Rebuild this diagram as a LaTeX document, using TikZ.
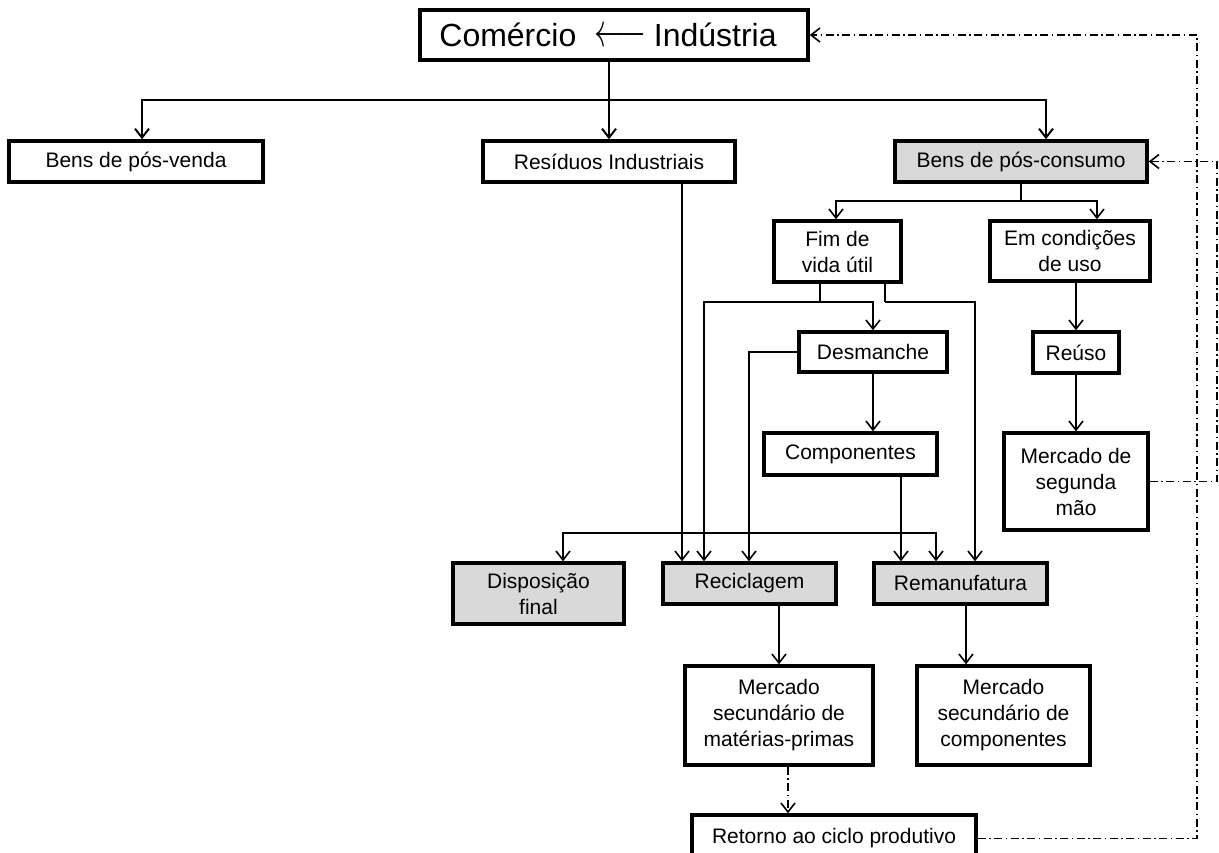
\documentclass[tikz,border=0pt]{standalone}
\usepackage{fix-cm}
\usepackage{fontspec}
\setmainfont{Liberation Sans}
\usetikzlibrary{arrows.meta,calc}
\definecolor{boxgray}{RGB}{217,217,217}
\begin{document}
\begin{tikzpicture}[x=1pt,y=-1pt,
 box/.style={draw,line width=3.4pt,fill=white,inner sep=0pt,align=center,font=\fontsize{21}{26}\selectfont},
 gbox/.style={box,fill=boxgray},
 arr/.style={-{Straight Barb[length=9pt,width=14pt]}},
 conn/.style={line width=1.6pt},
 dd/.style={line width=1.6pt,dash pattern=on 8pt off 3.5pt on 1.5pt off 3.5pt}]
\useasboundingbox (0,0) rectangle (1219,853);

% nodes
\node[box,minimum width=388pt,minimum height=50pt,font=\fontsize{32}{38}\selectfont] (top) at (614,35) {Comércio\hspace{18pt}\scalebox{1}[1.5]{$\longleftarrow$}\hspace{8pt}Indústria\hspace{12pt}};
\node[box,minimum width=254pt,minimum height=41pt] (posvenda) at (136,161.5) {Bens de pós-venda};
\node[box,minimum width=252pt,minimum height=41pt] (residuos) at (609,161.5) {Resíduos Industriais};
\node[gbox,minimum width=252pt,minimum height=41pt] (posconsumo) at (1021,161.5) {Bens de pós-consumo};
\node[box,minimum width=127pt,minimum height=61pt] (fim) at (837.5,251.5) {Fim de\\vida útil};
\node[box,minimum width=160pt,minimum height=60pt] (emcond) at (1070,251) {Em condições\\de uso};
\node[box,minimum width=148pt,minimum height=40pt] (desmanche) at (873,352) {Desmanche};
\node[box,minimum width=86pt,minimum height=41pt] (reuso) at (1076,352.5) {Reúso};
\node[box,minimum width=173pt,minimum height=42pt] (componentes) at (850.5,454) {Componentes};
\node[box,minimum width=144pt,minimum height=97pt] (mercseg) at (1076,481.5) {Mercado de\\segunda\\mão};
\node[gbox,minimum width=171pt,minimum height=61pt] (disp) at (538.5,593.5) {Disposição\\final};
\node[gbox,minimum width=173pt,minimum height=41pt] (recic) at (749.5,583.5) {Reciclagem};
\node[gbox,minimum width=173pt,minimum height=41pt] (reman) at (960.5,583.5) {Remanufatura};
\node[box,minimum width=188pt,minimum height=99pt] (mercmat) at (779,715.5) {Mercado\\secundário de\\matérias-primas};
\node[box,minimum width=173pt,minimum height=99pt] (merccomp) at (1003.5,715.5) {Mercado\\secundário de\\componentes};
\node[box,minimum width=284pt,minimum height=47pt] (retorno) at (834,838.5) {Retorno ao ciclo produtivo};

% junction coordinates
\coordinate (j1) at (609,100);
\coordinate (j2) at (1021,201);
\coordinate (j3) at (820,302);
\coordinate (j4) at (885,302);
\coordinate (dl) at (750,533);
\coordinate (r1) at (1197,0);
\coordinate (r2) at (1217,0);

% top distribution
\draw[line width=2pt] (top.south -| j1) -- (j1);
\draw[line width=2pt,arr] (j1) -| ([xshift=6pt]posvenda.north);
\draw[line width=2pt,arr] (j1) -- (residuos.north);
\draw[line width=2pt,arr] (j1) -| ([xshift=25pt]posconsumo.north);

% pos-consumo branches
\draw[conn] (posconsumo.south) -- (j2);
\draw[conn,arr] (j2) -| ([xshift=-1.5pt]fim.north);
\draw[conn,arr] (j2) -| ([xshift=27pt]emcond.north);

% fim de vida util branches
\draw[conn] (fim.south -| j3) -- (j3);
\draw[conn,arr] (j3) -| (desmanche.north);
\draw[conn,arr] (j3) -| ([xshift=-45.5pt]recic.north);
\draw[conn] (fim.south -| j4) -- (j4);
\draw[conn,arr] (j4) -| ([xshift=14.5pt]reman.north);

% desmanche
\draw[conn,arr] (desmanche.west) -| ([xshift=-0.5pt]recic.north);
\draw[conn,arr] (desmanche.south) -- (desmanche.south |- componentes.north);
\draw[conn,arr] ([xshift=50.5pt]componentes.south) -- ([xshift=50.5pt]componentes.south |- reman.north);

% residuos
\draw[conn,arr] ([xshift=73pt]residuos.south) -- ([xshift=73pt]residuos.south |- recic.north);

% distribution line
\draw[conn,arr] (dl) -| ([xshift=24.5pt]disp.north);
\draw[conn,arr] (dl) -| ([xshift=-24.5pt]reman.north);

% em condicoes de uso
\draw[conn,arr] (emcond.south -| reuso.north) -- (reuso.north);
\draw[conn,arr] (reuso.south) -- (reuso.south |- mercseg.north);

% lower
\draw[conn,arr] (recic.south -| mercmat.north) -- (mercmat.north);
\draw[conn,arr] ([xshift=5.5pt]reman.south) -- ([xshift=5.5pt]reman.south |- merccomp.north);
\draw[dd,arr] ([xshift=9pt]mercmat.south) -- ([xshift=9pt]mercmat.south |- retorno.north);

% feedback loops
\draw[dd,arr] (retorno.east) -- (retorno.east -| r1) -- (top.east -| r1) -- (top.east);
\draw[dd,arr] (mercseg.east) -- (mercseg.east -| r2) -- (posconsumo.east -| r2) -- (posconsumo.east);
\end{tikzpicture}
\end{document}
